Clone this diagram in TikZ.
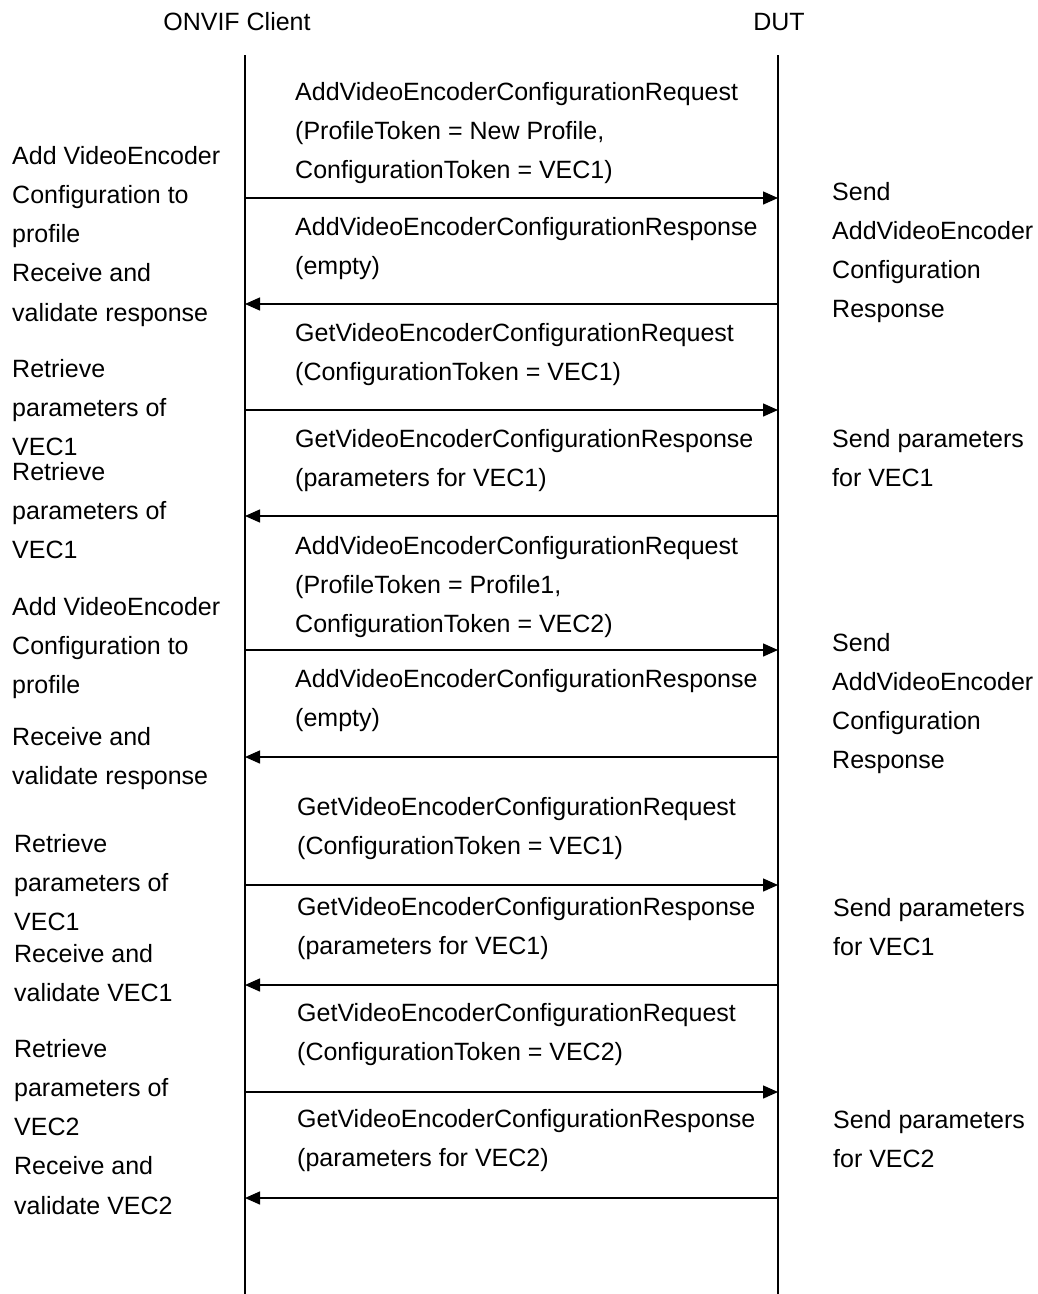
\documentclass[tikz,border=0pt]{standalone}
\usepackage{fontspec}
\setmainfont{Liberation Sans}
\usetikzlibrary{arrows.meta}
\newcommand{\firststrut}{\rule{0pt}{27pt}}
\begin{document}
\begin{tikzpicture}[x=1pt,y=-1pt,
  lbl/.style={anchor=north west,yshift=27pt,inner sep=0pt,align=left,
    font=\fontsize{25}{39.2}\selectfont},
  head/.style={anchor=base,inner sep=0pt,font=\fontsize{25}{30}\selectfont},
  life/.style={line width=1.4pt},
  msg/.style={line width=1.4pt,-{Triangle[length=15pt,width=13pt]}}]
\useasboundingbox (0,0) rectangle (1037,1294);
% headers
\node[head] (hc) at (237,30) {ONVIF Client};
\node[head] (hd) at (779,30) {DUT};
% lifelines
\coordinate (ctop) at (245,55); \coordinate (cbot) at (245,1294);
\coordinate (dtop) at (778,55); \coordinate (dbot) at (778,1294);
\draw[life] (ctop) -- (cbot);
\draw[life] (dtop) -- (dbot);
% message endpoints
\foreach \n/\y in {1/198,2/304,3/410,4/516,5/650,6/757,7/885,8/985,9/1092,10/1198}{
  \coordinate (c\n) at (245,\y);
  \coordinate (d\n) at (778,\y);
}
\draw[msg] (c1) -- (d1);
\draw[msg] (d2) -- (c2);
\draw[msg] (c3) -- (d3);
\draw[msg] (d4) -- (c4);
\draw[msg] (c5) -- (d5);
\draw[msg] (d6) -- (c6);
\draw[msg] (c7) -- (d7);
\draw[msg] (d8) -- (c8);
\draw[msg] (c9) -- (d9);
\draw[msg] (d10) -- (c10);
% message labels (positions = baseline of first line)
\node[lbl] (m1) at (295,100) {\firststrut AddVideoEncoderConfigurationRequest\\(ProfileToken = New Profile,\\ConfigurationToken = VEC1)};
\node[lbl] (m2) at (295,235) {\firststrut AddVideoEncoderConfigurationResponse\\(empty)};
\node[lbl] (m3) at (295,341) {\firststrut GetVideoEncoderConfigurationRequest\\(ConfigurationToken = VEC1)};
\node[lbl] (m4) at (295,447) {\firststrut GetVideoEncoderConfigurationResponse\\(parameters for VEC1)};
\node[lbl] (m5) at (295,554) {\firststrut AddVideoEncoderConfigurationRequest\\(ProfileToken = Profile1,\\ConfigurationToken = VEC2)};
\node[lbl] (m6) at (295,687) {\firststrut AddVideoEncoderConfigurationResponse\\(empty)};
\node[lbl] (m7) at (297,815) {\firststrut GetVideoEncoderConfigurationRequest\\(ConfigurationToken = VEC1)};
\node[lbl] (m8) at (297,915) {\firststrut GetVideoEncoderConfigurationResponse\\(parameters for VEC1)};
\node[lbl] (m9) at (297,1021) {\firststrut GetVideoEncoderConfigurationRequest\\(ConfigurationToken = VEC2)};
\node[lbl] (m10) at (297,1127) {\firststrut GetVideoEncoderConfigurationResponse\\(parameters for VEC2)};
% client side notes
\node[lbl] (l1) at (12,164) {\firststrut Add VideoEncoder\\Configuration to\\profile\\Receive and\\validate response};
\node[lbl] (l2) at (12,377) {\firststrut Retrieve\\parameters of\\VEC1};
\node[lbl] (l3) at (12,480) {\firststrut Retrieve\\parameters of\\VEC1};
\node[lbl] (l4) at (12,615) {\firststrut Add VideoEncoder\\Configuration to\\profile};
\node[lbl] (l5) at (12,745) {\firststrut Receive and\\validate response};
\node[lbl] (l6) at (14,852) {\firststrut Retrieve\\parameters of\\VEC1};
\node[lbl] (l7) at (14,962) {\firststrut Receive and\\validate VEC1};
\node[lbl] (l8) at (14,1057) {\firststrut Retrieve\\parameters of\\VEC2\\Receive and\\validate VEC2};
% DUT side notes
\node[lbl] (r1) at (832,200) {\firststrut Send\\AddVideoEncoder\\Configuration\\Response};
\node[lbl] (r2) at (832,447) {\firststrut Send parameters\\for VEC1};
\node[lbl] (r3) at (832,651) {\firststrut Send\\AddVideoEncoder\\Configuration\\Response};
\node[lbl] (r4) at (833,916) {\firststrut Send parameters\\for VEC1};
\node[lbl] (r5) at (833,1128) {\firststrut Send parameters\\for VEC2};
\end{tikzpicture}
\end{document}
